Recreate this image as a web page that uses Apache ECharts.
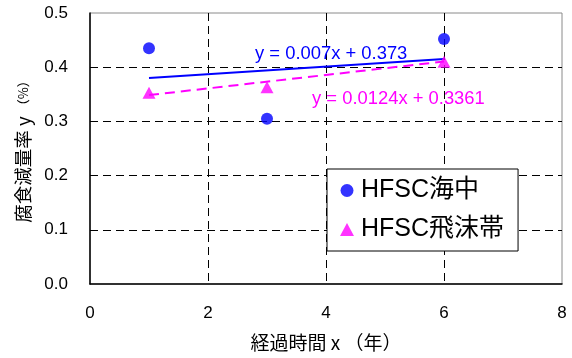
<!DOCTYPE html>
<html>
<head>
<meta charset="utf-8">
<script src="https://cdn.jsdelivr.net/npm/echarts@6/dist/echarts.min.js"></script>
<style>
  html, body { margin: 0; padding: 0; background: #fff; }
  #chart { width: 572px; height: 358px; }
</style>
</head>
<body>
<div id="chart"></div>
<script>
// Elapsed time (years) and corrosion loss rate (%)
const seaYears = [1, 3, 6];
const seaLoss = [0.435, 0.305, 0.452];
const splashYears = [1, 3, 6];
const splashLoss = [0.353, 0.363, 0.410];

// Linear fits: [slope, intercept] and x range
const seaFit = [0.007, 0.373];
const splashFit = [0.0124, 0.3361];
const fitRange = [1, 6];

const seriesNames = ['HFSC海中', 'HFSC飛沫帯'];
const fitLabels = ['y = 0.007x + 0.373', 'y = 0.0124x + 0.3361'];

const xTicks = [0, 2, 4, 6, 8];
const yTicks = [0, 0.1, 0.2, 0.3, 0.4, 0.5];

const FONT = "'Liberation Sans', 'Noto Sans CJK JP', sans-serif";
const JFONT = "'Noto Sans CJK JP', 'Liberation Sans', sans-serif";
const BLUE = '#0000ff';
const MAGENTA = '#ff00ff';

const pairs = (xs, ys) => xs.map((x, i) => [x, ys[i]]);
const fitLine = (fit) => fitRange.map(x => [x, fit[0] * x + fit[1]]);

const chart = echarts.init(document.getElementById('chart'), null, { renderer: 'canvas' });

chart.setOption({
  animation: false,
  backgroundColor: '#fff',
  grid: {
    left: 90, top: 13, right: 10, bottom: 74,
    outerBoundsMode: 'none',
    containLabel: false,
    show: true, borderColor: '#8a8a8a', borderWidth: 1
  },
  xAxis: {
    type: 'value',
    min: xTicks[0], max: xTicks[xTicks.length - 1], interval: 2,
    name: '経過時間 x （年）',
    nameLocation: 'middle', nameGap: 49,
    nameTextStyle: { fontFamily: JFONT, fontSize: 19, color: '#000' },
    axisLine: { show: true, lineStyle: { color: '#000', width: 1.5 } },
    axisTick: { show: false },
    axisLabel: { fontFamily: FONT, fontSize: 17, color: '#000', margin: 21 },
    splitLine: { show: true, showMinLine: false, showMaxLine: false,
                 lineStyle: { color: '#000', type: [8, 5], width: 1 } }
  },
  yAxis: {
    type: 'value',
    min: yTicks[0], max: yTicks[yTicks.length - 1], interval: 0.1,
    name: '{m|腐食減量率 y }{s|（%）}',
    nameLocation: 'middle', nameGap: 58,
    nameTextStyle: {
      color: '#000',
      rich: {
        m: { fontFamily: JFONT, fontSize: 18.5, color: '#000' },
        s: { fontFamily: JFONT, fontSize: 13, color: '#000' }
      }
    },
    axisLine: { show: true, lineStyle: { color: '#000', width: 1.5 } },
    axisTick: { show: false },
    axisLabel: { fontFamily: FONT, fontSize: 17, color: '#000', margin: 22,
                 formatter: v => v.toFixed(1) },
    splitLine: { show: true, showMinLine: false, showMaxLine: false,
                 lineStyle: { color: '#000', type: [8, 5], width: 1 } }
  },
  legend: {
    data: seriesNames,
    orient: 'vertical',
    left: 327, top: 169,
    padding: [9, 14, 9, 13],
    itemGap: 14,
    itemWidth: 14, itemHeight: 13,
    backgroundColor: '#fff',
    borderColor: '#000', borderWidth: 1,
    textStyle: { fontFamily: FONT, fontSize: 25, color: '#000', padding: [0, 0, 0, 2] }
  },
  series: [
    {
      name: 'fit-sea', type: 'line', data: fitLine(seaFit),
      symbol: 'none', lineStyle: { color: BLUE, width: 2 },
      silent: true, z: 2
    },
    {
      name: 'fit-splash', type: 'line', data: fitLine(splashFit),
      symbol: 'none', lineStyle: { color: MAGENTA, width: 2, type: [10, 6] },
      silent: true, z: 2
    },
    {
      name: seriesNames[0], type: 'scatter', data: pairs(seaYears, seaLoss),
      symbol: 'circle', symbolSize: 12,
      itemStyle: { color: BLUE }, z: 3
    },
    {
      name: seriesNames[1], type: 'scatter', data: pairs(splashYears, splashLoss),
      symbol: 'triangle', symbolSize: [13, 12],
      itemStyle: { color: MAGENTA }, z: 3
    }
  ],
  graphic: [
    {
      type: 'text', left: 255, top: 45, z: 10,
      style: { text: fitLabels[0], fill: BLUE, font: '18.4px ' + FONT }
    },
    {
      type: 'text', left: 312, top: 90, z: 10,
      style: { text: fitLabels[1], fill: MAGENTA, font: '18.4px ' + FONT }
    }
  ]
});
</script>
</body>
</html>
